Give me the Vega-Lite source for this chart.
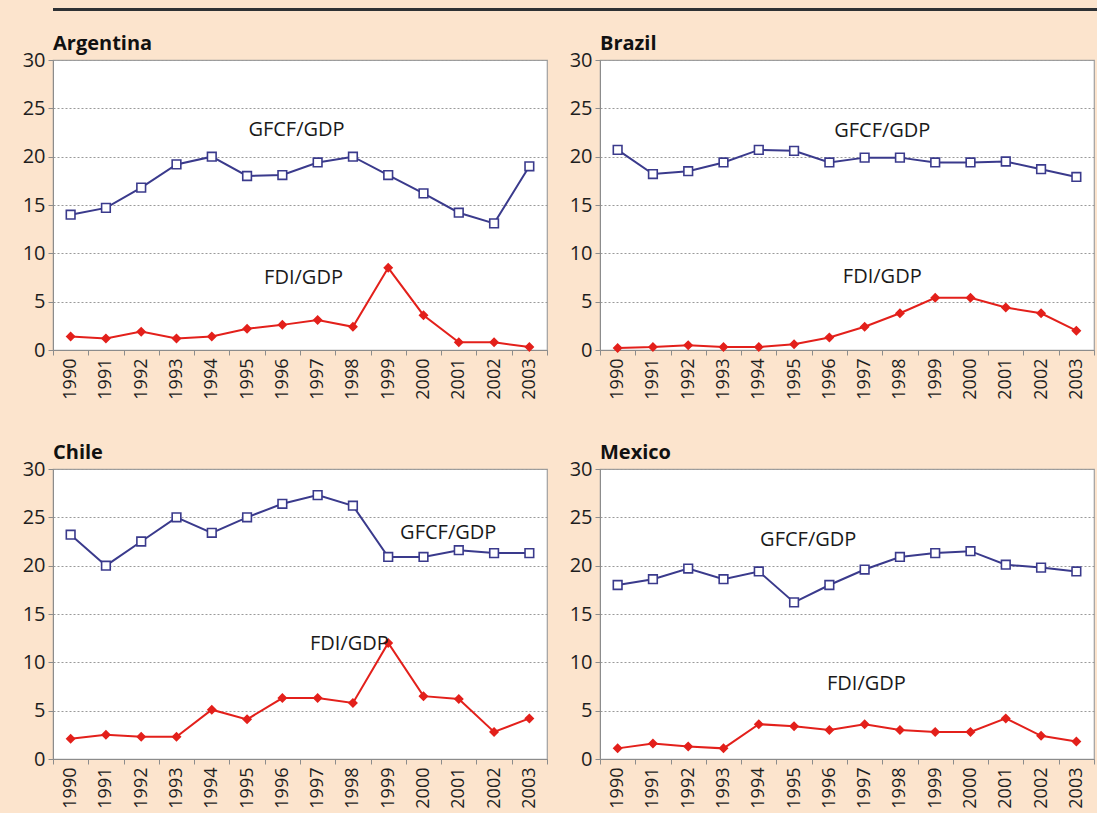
{
  "$schema": "https://vega.github.io/schema/vega-lite/v6.json",
  "background": "#fce4cd",
  "padding": {"left": 8, "top": 8, "right": 0, "bottom": 4},
  "config": {
    "font": "Open Sans",
    "view": {"stroke": "#a0a0a0", "strokeWidth": 1.2, "fill": "white"},
    "axis": {
      "labelFont": "Open Sans",
      "labelColor": "#1e1e1e",
      "domainColor": "#8c8c8c",
      "tickColor": "#8c8c8c",
      "tickSize": 5,
      "title": null
    },
    "axisX": {
      "labelFontSize": 18,
      "labelAngle": -90,
      "labelPadding": 3,
      "tickBand": "extent",
      "grid": false
    },
    "axisY": {
      "labelFontSize": 20,
      "labelPadding": 3,
      "minExtent": 44,
      "grid": true,
      "gridColor": "#9a9a9a",
      "gridDash": [2, 2],
      "gridWidth": 1
    }
  },
  "datasets": {
    "d": [
      {"country": "Argentina", "series": "GFCF", "year": 1990, "value": 14.0},
      {"country": "Argentina", "series": "GFCF", "year": 1991, "value": 14.7},
      {"country": "Argentina", "series": "GFCF", "year": 1992, "value": 16.8},
      {"country": "Argentina", "series": "GFCF", "year": 1993, "value": 19.2},
      {"country": "Argentina", "series": "GFCF", "year": 1994, "value": 20.0},
      {"country": "Argentina", "series": "GFCF", "year": 1995, "value": 18.0},
      {"country": "Argentina", "series": "GFCF", "year": 1996, "value": 18.1},
      {"country": "Argentina", "series": "GFCF", "year": 1997, "value": 19.4},
      {"country": "Argentina", "series": "GFCF", "year": 1998, "value": 20.0},
      {"country": "Argentina", "series": "GFCF", "year": 1999, "value": 18.1},
      {"country": "Argentina", "series": "GFCF", "year": 2000, "value": 16.2},
      {"country": "Argentina", "series": "GFCF", "year": 2001, "value": 14.2},
      {"country": "Argentina", "series": "GFCF", "year": 2002, "value": 13.1},
      {"country": "Argentina", "series": "GFCF", "year": 2003, "value": 19.0},
      {"country": "Argentina", "series": "FDI", "year": 1990, "value": 1.4},
      {"country": "Argentina", "series": "FDI", "year": 1991, "value": 1.2},
      {"country": "Argentina", "series": "FDI", "year": 1992, "value": 1.9},
      {"country": "Argentina", "series": "FDI", "year": 1993, "value": 1.2},
      {"country": "Argentina", "series": "FDI", "year": 1994, "value": 1.4},
      {"country": "Argentina", "series": "FDI", "year": 1995, "value": 2.2},
      {"country": "Argentina", "series": "FDI", "year": 1996, "value": 2.6},
      {"country": "Argentina", "series": "FDI", "year": 1997, "value": 3.1},
      {"country": "Argentina", "series": "FDI", "year": 1998, "value": 2.4},
      {"country": "Argentina", "series": "FDI", "year": 1999, "value": 8.5},
      {"country": "Argentina", "series": "FDI", "year": 2000, "value": 3.6},
      {"country": "Argentina", "series": "FDI", "year": 2001, "value": 0.8},
      {"country": "Argentina", "series": "FDI", "year": 2002, "value": 0.8},
      {"country": "Argentina", "series": "FDI", "year": 2003, "value": 0.3},
      {"country": "Brazil", "series": "GFCF", "year": 1990, "value": 20.7},
      {"country": "Brazil", "series": "GFCF", "year": 1991, "value": 18.2},
      {"country": "Brazil", "series": "GFCF", "year": 1992, "value": 18.5},
      {"country": "Brazil", "series": "GFCF", "year": 1993, "value": 19.4},
      {"country": "Brazil", "series": "GFCF", "year": 1994, "value": 20.7},
      {"country": "Brazil", "series": "GFCF", "year": 1995, "value": 20.6},
      {"country": "Brazil", "series": "GFCF", "year": 1996, "value": 19.4},
      {"country": "Brazil", "series": "GFCF", "year": 1997, "value": 19.9},
      {"country": "Brazil", "series": "GFCF", "year": 1998, "value": 19.9},
      {"country": "Brazil", "series": "GFCF", "year": 1999, "value": 19.4},
      {"country": "Brazil", "series": "GFCF", "year": 2000, "value": 19.4},
      {"country": "Brazil", "series": "GFCF", "year": 2001, "value": 19.5},
      {"country": "Brazil", "series": "GFCF", "year": 2002, "value": 18.7},
      {"country": "Brazil", "series": "GFCF", "year": 2003, "value": 17.9},
      {"country": "Brazil", "series": "FDI", "year": 1990, "value": 0.2},
      {"country": "Brazil", "series": "FDI", "year": 1991, "value": 0.3},
      {"country": "Brazil", "series": "FDI", "year": 1992, "value": 0.5},
      {"country": "Brazil", "series": "FDI", "year": 1993, "value": 0.3},
      {"country": "Brazil", "series": "FDI", "year": 1994, "value": 0.3},
      {"country": "Brazil", "series": "FDI", "year": 1995, "value": 0.6},
      {"country": "Brazil", "series": "FDI", "year": 1996, "value": 1.3},
      {"country": "Brazil", "series": "FDI", "year": 1997, "value": 2.4},
      {"country": "Brazil", "series": "FDI", "year": 1998, "value": 3.8},
      {"country": "Brazil", "series": "FDI", "year": 1999, "value": 5.4},
      {"country": "Brazil", "series": "FDI", "year": 2000, "value": 5.4},
      {"country": "Brazil", "series": "FDI", "year": 2001, "value": 4.4},
      {"country": "Brazil", "series": "FDI", "year": 2002, "value": 3.8},
      {"country": "Brazil", "series": "FDI", "year": 2003, "value": 2.0},
      {"country": "Chile", "series": "GFCF", "year": 1990, "value": 23.2},
      {"country": "Chile", "series": "GFCF", "year": 1991, "value": 20.0},
      {"country": "Chile", "series": "GFCF", "year": 1992, "value": 22.5},
      {"country": "Chile", "series": "GFCF", "year": 1993, "value": 25.0},
      {"country": "Chile", "series": "GFCF", "year": 1994, "value": 23.4},
      {"country": "Chile", "series": "GFCF", "year": 1995, "value": 25.0},
      {"country": "Chile", "series": "GFCF", "year": 1996, "value": 26.4},
      {"country": "Chile", "series": "GFCF", "year": 1997, "value": 27.3},
      {"country": "Chile", "series": "GFCF", "year": 1998, "value": 26.2},
      {"country": "Chile", "series": "GFCF", "year": 1999, "value": 20.9},
      {"country": "Chile", "series": "GFCF", "year": 2000, "value": 20.9},
      {"country": "Chile", "series": "GFCF", "year": 2001, "value": 21.6},
      {"country": "Chile", "series": "GFCF", "year": 2002, "value": 21.3},
      {"country": "Chile", "series": "GFCF", "year": 2003, "value": 21.3},
      {"country": "Chile", "series": "FDI", "year": 1990, "value": 2.1},
      {"country": "Chile", "series": "FDI", "year": 1991, "value": 2.5},
      {"country": "Chile", "series": "FDI", "year": 1992, "value": 2.3},
      {"country": "Chile", "series": "FDI", "year": 1993, "value": 2.3},
      {"country": "Chile", "series": "FDI", "year": 1994, "value": 5.1},
      {"country": "Chile", "series": "FDI", "year": 1995, "value": 4.1},
      {"country": "Chile", "series": "FDI", "year": 1996, "value": 6.3},
      {"country": "Chile", "series": "FDI", "year": 1997, "value": 6.3},
      {"country": "Chile", "series": "FDI", "year": 1998, "value": 5.8},
      {"country": "Chile", "series": "FDI", "year": 1999, "value": 12.0},
      {"country": "Chile", "series": "FDI", "year": 2000, "value": 6.5},
      {"country": "Chile", "series": "FDI", "year": 2001, "value": 6.2},
      {"country": "Chile", "series": "FDI", "year": 2002, "value": 2.8},
      {"country": "Chile", "series": "FDI", "year": 2003, "value": 4.2},
      {"country": "Mexico", "series": "GFCF", "year": 1990, "value": 18.0},
      {"country": "Mexico", "series": "GFCF", "year": 1991, "value": 18.6},
      {"country": "Mexico", "series": "GFCF", "year": 1992, "value": 19.7},
      {"country": "Mexico", "series": "GFCF", "year": 1993, "value": 18.6},
      {"country": "Mexico", "series": "GFCF", "year": 1994, "value": 19.4},
      {"country": "Mexico", "series": "GFCF", "year": 1995, "value": 16.2},
      {"country": "Mexico", "series": "GFCF", "year": 1996, "value": 18.0},
      {"country": "Mexico", "series": "GFCF", "year": 1997, "value": 19.6},
      {"country": "Mexico", "series": "GFCF", "year": 1998, "value": 20.9},
      {"country": "Mexico", "series": "GFCF", "year": 1999, "value": 21.3},
      {"country": "Mexico", "series": "GFCF", "year": 2000, "value": 21.5},
      {"country": "Mexico", "series": "GFCF", "year": 2001, "value": 20.1},
      {"country": "Mexico", "series": "GFCF", "year": 2002, "value": 19.8},
      {"country": "Mexico", "series": "GFCF", "year": 2003, "value": 19.4},
      {"country": "Mexico", "series": "FDI", "year": 1990, "value": 1.1},
      {"country": "Mexico", "series": "FDI", "year": 1991, "value": 1.6},
      {"country": "Mexico", "series": "FDI", "year": 1992, "value": 1.3},
      {"country": "Mexico", "series": "FDI", "year": 1993, "value": 1.1},
      {"country": "Mexico", "series": "FDI", "year": 1994, "value": 3.6},
      {"country": "Mexico", "series": "FDI", "year": 1995, "value": 3.4},
      {"country": "Mexico", "series": "FDI", "year": 1996, "value": 3.0},
      {"country": "Mexico", "series": "FDI", "year": 1997, "value": 3.6},
      {"country": "Mexico", "series": "FDI", "year": 1998, "value": 3.0},
      {"country": "Mexico", "series": "FDI", "year": 1999, "value": 2.8},
      {"country": "Mexico", "series": "FDI", "year": 2000, "value": 2.8},
      {"country": "Mexico", "series": "FDI", "year": 2001, "value": 4.2},
      {"country": "Mexico", "series": "FDI", "year": 2002, "value": 2.4},
      {"country": "Mexico", "series": "FDI", "year": 2003, "value": 1.8},
      {"country": "Argentina", "label": "GFCF/GDP", "lx": 1996.4, "ly": 22.8},
      {"country": "Argentina", "label": "FDI/GDP", "lx": 1996.6, "ly": 7.5},
      {"country": "Brazil", "label": "GFCF/GDP", "lx": 1997.5, "ly": 22.7},
      {"country": "Brazil", "label": "FDI/GDP", "lx": 1997.5, "ly": 7.6},
      {"country": "Chile", "label": "GFCF/GDP", "lx": 2000.7, "ly": 23.4},
      {"country": "Chile", "label": "FDI/GDP", "lx": 1997.9, "ly": 11.9},
      {"country": "Mexico", "label": "GFCF/GDP", "lx": 1995.4, "ly": 22.7},
      {"country": "Mexico", "label": "FDI/GDP", "lx": 1997.05, "ly": 7.8}
    ]
  },
  "spacing": 22,
  "vconcat": [
    {
      "width": 1045,
      "height": 3,
      "view": {"stroke": null, "fill": null},
      "data": {"values": [{"band": "top"}]},
      "mark": {"type": "rect", "color": "#2e3134"},
      "encoding": {}
    },
    {
      "data": {"name": "d"},
      "facet": {
        "field": "country",
        "type": "nominal",
        "header": {
          "title": null,
          "labelAnchor": "start",
          "labelAlign": "left",
          "labelFont": "Open Sans",
          "labelFontWeight": "bold",
          "labelFontSize": 20,
          "labelColor": "#111111",
          "labelPadding": -4
        }
      },
      "columns": 2,
      "spacing": {"row": 42, "column": 6},
      "resolve": {"axis": {"x": "independent", "y": "independent"}},
      "spec": {
        "width": 494,
        "height": 290,
        "layer": [
          {
            "transform": [{"filter": "isValid(datum.series)"}],
            "mark": {"type": "line", "strokeWidth": 2},
            "encoding": {
              "x": {
                "field": "year",
                "type": "ordinal",
                "scale": {"type": "band", "paddingInner": 0, "paddingOuter": 0},
                "axis": {"labelAngle": -90, "labelFontSize": 18, "tickBand": "extent"}
              },
              "y": {
                "field": "value",
                "type": "quantitative",
                "scale": {"domain": [0, 30], "nice": false},
                "axis": {"values": [0, 5, 10, 15, 20, 25, 30], "labelFontSize": 20}
              },
              "color": {
                "field": "series",
                "type": "nominal",
                "scale": {"domain": ["GFCF", "FDI"], "range": ["#3a3a8c", "#e3201b"]},
                "legend": null
              }
            }
          },
          {
            "transform": [{"filter": "isValid(datum.series)"}],
            "mark": {"type": "point", "opacity": 1, "strokeWidth": 1.6},
            "encoding": {
              "x": {
                "field": "year",
                "type": "ordinal",
                "scale": {"type": "band", "paddingInner": 0, "paddingOuter": 0},
                "axis": null
              },
              "y": {"field": "value", "type": "quantitative"},
              "color": {"field": "series", "type": "nominal", "legend": null},
              "shape": {
                "field": "series",
                "type": "nominal",
                "scale": {"domain": ["GFCF", "FDI"], "range": ["square", "diamond"]},
                "legend": null
              },
              "fill": {
                "field": "series",
                "type": "nominal",
                "scale": {"domain": ["GFCF", "FDI"], "range": ["#ffffff", "#e3201b"]},
                "legend": null
              },
              "size": {
                "field": "series",
                "type": "nominal",
                "scale": {"domain": ["GFCF", "FDI"], "range": [75, 60]},
                "legend": null
              }
            }
          },
          {
            "transform": [{"filter": "isValid(datum.label)"}],
            "mark": {"type": "text", "font": "Open Sans", "fontSize": 20, "color": "#1a1a1a", "baseline": "middle", "align": "center"},
            "encoding": {
              "x": {
                "field": "lx",
                "type": "quantitative",
                "scale": {"domain": [1989.5, 2003.5], "nice": false, "zero": false},
                "axis": null
              },
              "y": {"field": "ly", "type": "quantitative"},
              "text": {"field": "label", "type": "nominal"}
            }
          }
        ],
        "resolve": {"scale": {"x": "independent"}}
      }
    }
  ]
}
